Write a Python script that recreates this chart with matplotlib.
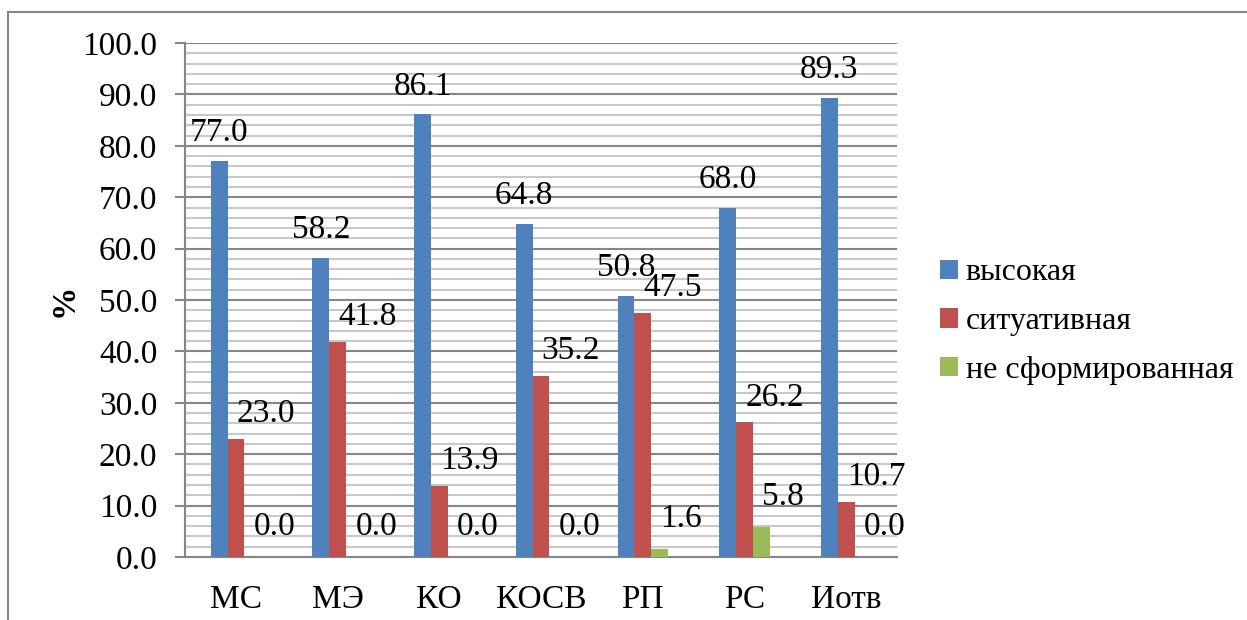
import matplotlib.pyplot as plt
import numpy as np
from matplotlib.lines import Line2D
from matplotlib.ticker import MultipleLocator, FormatStrFormatter

plt.rcParams['font.family'] = ['Liberation Serif', 'DejaVu Serif']

# Данные по шкалам
categories = ["МС", "МЭ", "КО", "КОСВ", "РП", "РС", "Иотв"]
series_names = ["высокая", "ситуативная", "не сформированная"]
vysokaya = [77.0, 58.2, 86.1, 64.8, 50.8, 68.0, 89.3]
situativnaya = [23.0, 41.8, 13.9, 35.2, 47.5, 26.2, 10.7]
ne_sform = [0.0, 0.0, 0.0, 0.0, 1.6, 5.8, 0.0]

colors = ["#4F81BD", "#C0504D", "#9BBB59"]
# сдвиг подписей (в пикселях) для каждого ряда
label_dx = [0, 30, 22]
label_dy = [28, 25, 30]
fs = 24

fig = plt.figure(figsize=(12.47, 6.2), dpi=100)
ax = fig.add_axes([0.1484, 0.1016, 0.5709, 0.829])

x = np.arange(len(categories))
w = 0.165
for i, (vals, name) in enumerate(zip([vysokaya, situativnaya, ne_sform], series_names)):
    pos = x + (i - 1) * w
    ax.bar(pos, vals, width=w, color=colors[i], label=name, zorder=3)
    for px_, v in zip(pos, vals):
        ax.annotate(f"{v:.1f}", (px_, v), xytext=(label_dx[i] * 0.72, label_dy[i] * 0.72),
                    textcoords="offset points", ha="center", va="center",
                    fontsize=fs, zorder=4)

ax.set_xlim(-0.5, len(categories) - 0.5)
ax.set_ylim(0, 100)
ax.yaxis.set_major_locator(MultipleLocator(10))
ax.yaxis.set_minor_locator(MultipleLocator(2))
ax.yaxis.set_major_formatter(FormatStrFormatter("%.1f"))
ax.grid(axis="y", which="major", color="#868686", linewidth=1.5, zorder=0)
ax.grid(axis="y", which="minor", color="#c8c8c8", linewidth=1.5, zorder=0)

ax.set_xticks(x)
ax.set_xticklabels(categories)
ax.tick_params(axis="x", length=0, pad=20, labelsize=fs)
ax.tick_params(axis="y", which="major", length=7, width=1.5, color="#868686",
               pad=13, labelsize=fs)
ax.tick_params(axis="y", which="minor", length=0)

for s in ["top", "right"]:
    ax.spines[s].set_visible(False)
for s in ["left", "bottom"]:
    ax.spines[s].set_color("#868686")
    ax.spines[s].set_linewidth(1.5)

ax.set_ylabel("%", fontsize=fs, fontweight="bold", labelpad=2)

ax.legend(loc="center left", bbox_to_anchor=(0.731, 0.481), bbox_transform=fig.transFigure,
          frameon=False, fontsize=23, handlelength=0.55, handleheight=0.55,
          handletextpad=0.25, labelspacing=0.62)

# рамка вокруг диаграммы (видны только верх и левый край)
fig.add_artist(Line2D([0.0064, 1.0], [0.981, 0.981], color="#868686", linewidth=1.5,
                      transform=fig.transFigure))
fig.add_artist(Line2D([0.0064, 0.0064], [0.0, 0.981], color="#868686", linewidth=1.5,
                      transform=fig.transFigure))

fig.savefig("out.png", dpi=100)
